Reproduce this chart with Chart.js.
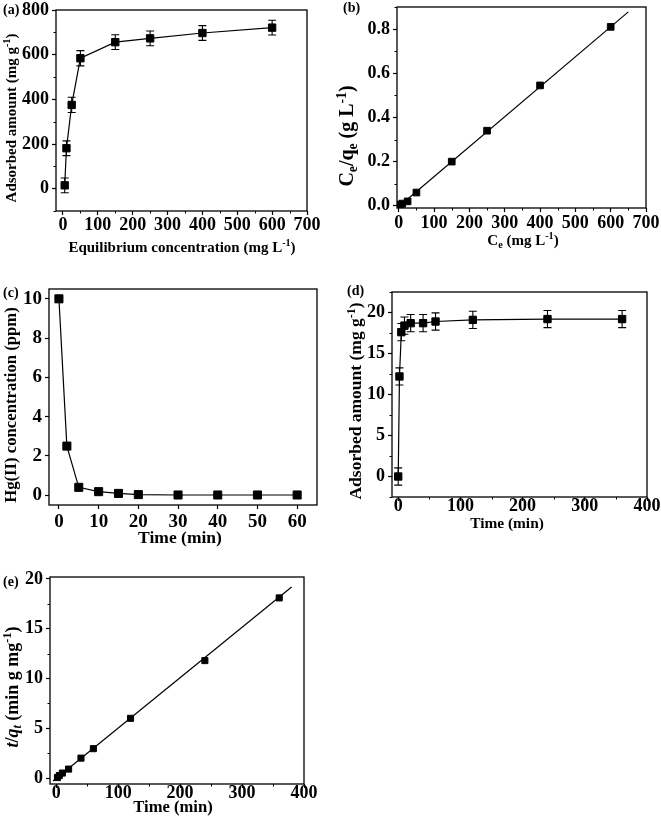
<!DOCTYPE html>
<html><head><meta charset="utf-8">
<script src="https://cdn.jsdelivr.net/npm/chart.js@4.4.0/dist/chart.umd.min.js"></script>
<style>
body{margin:0;background:#fff;width:661px;height:827px;position:relative;overflow:hidden;}
.p{position:absolute;}
.p canvas{display:block;}
.lbl{position:absolute;font:bold 14px 'Liberation Serif','Times New Roman',serif;color:#000;line-height:1;}
</style></head><body>
<div class="p" style="left:0;top:0;width:330px;height:265px"><canvas id="ca" width="330" height="265"></canvas></div>
<div class="p" style="left:330px;top:0;width:331px;height:265px"><canvas id="cb" width="331" height="265"></canvas></div>
<div class="p" style="left:0;top:270px;width:330px;height:280px"><canvas id="cc" width="330" height="280"></canvas></div>
<div class="p" style="left:330px;top:270px;width:331px;height:280px"><canvas id="cd" width="331" height="280"></canvas></div>
<div class="p" style="left:0;top:550px;width:330px;height:277px"><canvas id="ce" width="330" height="277"></canvas></div>
<div class="lbl" style="left:3px;top:3px">(a)</div>
<div class="lbl" style="left:343px;top:1px">(b)</div>
<div class="lbl" style="left:3px;top:286px">(c)</div>
<div class="lbl" style="left:347px;top:284px">(d)</div>
<div class="lbl" style="left:3px;top:575px">(e)</div>
<script>
// ---------- data ----------
// (a) adsorption isotherm
const isoCe  = [5, 10, 25, 50, 150, 250, 400, 600];
const isoQe  = [15, 181, 375, 584, 656, 673, 697, 721];
const isoErr = [33, 33, 34, 34, 33, 33, 33, 33];
// (b) Langmuir linear plot
const langCe = [5, 10, 25, 50, 150, 250, 400, 600];
const langCq = [0.005, 0.01, 0.02, 0.06, 0.20, 0.34, 0.545, 0.81];
const langFitX = [2, 650];
const langFitY = [-0.0006, 0.878];
// (c) Hg(II) concentration vs time
const timeC = [0, 2, 5, 10, 15, 20, 30, 40, 50, 60];
const concC = [10, 2.5, 0.4, 0.18, 0.09, 0.03, 0.01, 0.01, 0.01, 0.01];
// (d) adsorbed amount vs time
const timeD = [0, 2, 5, 10, 20, 40, 60, 120, 240, 360];
const qtD   = [0, 12.2, 17.6, 18.4, 18.7, 18.7, 18.9, 19.1, 19.2, 19.2];
const errD  = [1.05, 1.05, 1.05, 1.05, 1.05, 1.05, 1.05, 1.05, 1.05, 1.05];
// (e) pseudo-second-order plot
const timeE = [2, 5, 10, 20, 40, 60, 120, 240, 360];
const tqE   = [0.05, 0.25, 0.5, 0.9, 2.0, 2.95, 6.0, 11.8, 18.1];
const fitEX = [-5, 380];
const fitEY = [-0.3, 19.2];
// tick values
const ticksAX = [0, 100, 200, 300, 400, 500, 600, 700];
const ticksAY = [0, 200, 400, 600, 800];
const ticksBX = [0, 100, 200, 300, 400, 500, 600, 700];
const ticksBY = [0, 0.2, 0.4, 0.6, 0.8];
const ticksCX = [0, 10, 20, 30, 40, 50, 60];
const ticksCY = [0, 2, 4, 6, 8, 10];
const ticksDX = [0, 100, 200, 300, 400];
const ticksDY = [0, 5, 10, 15, 20];
const ticksEX = [0, 100, 200, 300, 400];
const ticksEY = [0, 5, 10, 15, 20];
// axis titles (rich text segments: sup = superscript, sub = subscript, it = italic)
const titleAX = [{t: 'Equilibrium concentration (mg L'}, {t: '-1', sup: 1}, {t: ')'}];
const titleAY = [{t: 'Adsorbed amount (mg g'}, {t: '-1', sup: 1}, {t: ')'}];
const titleBX = [{t: 'C'}, {t: 'e', sub: 1}, {t: ' (mg L'}, {t: '-1', sup: 1}, {t: ')'}];
const titleBY = [{t: 'C'}, {t: 'e', sub: 1}, {t: '/q'}, {t: 'e', sub: 1}, {t: ' (g L'}, {t: '-1', sup: 1}, {t: ')'}];
const titleCX = [{t: 'Time (min)'}];
const titleCY = [{t: 'Hg(II) concentration (ppm)'}];
const titleDX = [{t: 'Time (min)'}];
const titleDY = [{t: 'Adsorbed amount (mg g'}, {t: '-1', sup: 1}, {t: ')'}];
const titleEX = [{t: 'Time (min)'}];
const titleEY = [{t: 't', it: 1}, {t: '/'}, {t: 'q', it: 1}, {t: 't', sub: 1, it: 1}, {t: ' (min g mg'}, {t: '-1', sup: 1}, {t: ')'}];

const pts = (xs, ys) => xs.map((x, i) => ({x, y: ys[i]}));
const FAM = "'Liberation Serif','Times New Roman','DejaVu Serif',serif";

const framePlugin = {
  id: 'frame',
  beforeDatasetsDraw(chart) {
    const ctx = chart.ctx, xs = chart.scales.x, ys = chart.scales.y;
    ctx.save();
    ctx.strokeStyle = '#000'; ctx.lineWidth = 1.1;
    chart.data.datasets.forEach(ds => {
      if (!ds.errors) return;
      ds.data.forEach((p, j) => {
        const px = xs.getPixelForValue(p.x);
        const y1 = ys.getPixelForValue(p.y - ds.errors[j]);
        const y2 = ys.getPixelForValue(p.y + ds.errors[j]);
        ctx.beginPath();
        ctx.moveTo(px, y1); ctx.lineTo(px, y2);
        ctx.moveTo(px - 4, y1); ctx.lineTo(px + 4, y1);
        ctx.moveTo(px - 4, y2); ctx.lineTo(px + 4, y2);
        ctx.stroke();
      });
    });
    ctx.restore();
  },
  afterDraw(chart, args, opts) {
    const ctx = chart.ctx, a = chart.chartArea, xs = chart.scales.x, ys = chart.scales.y;
    ctx.save();
    ctx.strokeStyle = '#000'; ctx.lineWidth = 1;
    if (opts.minorX) {
      const majors = xs.ticks.map(t => t.value);
      for (let v = Math.ceil(xs.min / opts.minorX) * opts.minorX; v <= xs.max + 1e-9; v += opts.minorX) {
        if (majors.some(m => Math.abs(m - v) < 1e-9)) continue;
        const px = Math.round(xs.getPixelForValue(v)) + 0.5;
        ctx.beginPath(); ctx.moveTo(px, a.bottom); ctx.lineTo(px, a.bottom + 2.5); ctx.stroke();
      }
    }
    if (opts.minorY) {
      const majors = ys.ticks.map(t => t.value);
      for (let v = Math.ceil(ys.min / opts.minorY) * opts.minorY; v <= ys.max + 1e-9; v += opts.minorY) {
        if (majors.some(m => Math.abs(m - v) < 1e-9)) continue;
        const py = Math.round(ys.getPixelForValue(v)) + 0.5;
        ctx.beginPath(); ctx.moveTo(a.left - 2.5, py); ctx.lineTo(a.left, py); ctx.stroke();
      }
    }
    ctx.lineWidth = 1.3;
    ctx.strokeRect(a.left, a.top, a.right - a.left, a.bottom - a.top);
    ctx.restore();
  }
};

// axis titles with sub/superscripts, drawn as canvas text
const richTitlePlugin = {
  id: 'richTitles',
  afterDraw(chart, args, opts) {
    const ctx = chart.ctx;
    [opts.x, opts.y].forEach((spec, k) => {
      if (!spec) return;
      const size = spec.size;
      const fontFor = s => (s.it ? 'italic ' : '') + 'bold ' + ((s.sup || s.sub) ? size * 0.68 : size) + 'px ' + FAM;
      let total = 0;
      const widths = spec.segs.map(s => { ctx.font = fontFor(s); const w = ctx.measureText(s.t).width; total += w; return w; });
      ctx.save();
      ctx.translate(spec.cx, spec.cy);
      if (k === 1) ctx.rotate(-Math.PI / 2);
      ctx.fillStyle = '#000'; ctx.textBaseline = 'alphabetic'; ctx.textAlign = 'left';
      let x = -total / 2;
      const base = 0.25 * size;
      spec.segs.forEach((s, i) => {
        ctx.font = fontFor(s);
        const dy = s.sup ? -0.36 * size : (s.sub ? 0.2 * size : 0);
        ctx.fillText(s.t, x, base + dy);
        x += widths[i];
      });
      ctx.restore();
    });
  }
};
Chart.register(framePlugin, richTitlePlugin);

function makeChart(id, cfg) {
  const tickFont = {family: FAM, size: cfg.tickSize || 18, weight: 'bold', lineHeight: 1};
  const gridOpt = {display: true, drawOnChartArea: false, drawTicks: true, tickLength: 4, tickColor: '#000', tickWidth: 1.2};
  return new Chart(document.getElementById(id), {
    type: 'scatter',
    data: {datasets: cfg.datasets},
    options: {
      responsive: false, animation: false, devicePixelRatio: 1,
      layout: {padding: {top: cfg.padTop, right: cfg.padRight, left: 0, bottom: 0}},
      plugins: {
        legend: {display: false}, tooltip: {enabled: false},
        frame: {minorX: cfg.minorX, minorY: cfg.minorY},
        richTitles: {x: cfg.xTitle, y: cfg.yTitle}
      },
      scales: {
        x: {
          type: 'linear', min: cfg.xMin, max: cfg.xMax,
          afterBuildTicks: s => { s.ticks = cfg.xTicks.map(v => ({value: v})); },
          afterFit: s => { s.height = cfg.xH; s.paddingLeft = 0; s.paddingRight = 0; },
          grid: gridOpt, border: {display: false},
          ticks: {color: '#000', font: tickFont, padding: cfg.xTickPad, autoSkip: false, maxRotation: 0,
                  callback: cfg.xFmt || (v => String(v))},
          title: {display: false}
        },
        y: {
          type: 'linear', min: cfg.yMin, max: cfg.yMax,
          afterBuildTicks: s => { s.ticks = cfg.yTicks.map(v => ({value: v})); },
          afterFit: s => { s.width = cfg.yW; s.paddingTop = 0; s.paddingBottom = 0; },
          grid: gridOpt, border: {display: false},
          ticks: {color: '#000', font: tickFont, padding: 3, autoSkip: false,
                  callback: cfg.yFmt || (v => String(v))},
          title: {display: false}
        }
      }
    }
  });
}

const markerDs = (data, r, extra) => Object.assign({
  data, showLine: true, borderColor: '#000', borderWidth: 1.2, backgroundColor: '#000',
  pointStyle: 'rect', pointRadius: r, pointBorderWidth: 1, pointBackgroundColor: '#000', pointBorderColor: '#000'
}, extra || {});
const lineDs = (data) => ({data, showLine: true, borderColor: '#000', borderWidth: 1.2, pointRadius: 0, fill: false});

makeChart('ca', {
  datasets: [markerDs(pts(isoCe, isoQe), 5.2, {errors: isoErr})],
  xMin: -20, xMax: 700, yMin: -100, yMax: 800,
  xTicks: ticksAX, yTicks: ticksAY, minorX: 50, minorY: 100,
  yW: 56, xH: 54, padTop: 10, padRight: 23, xTickPad: 1,
  xTitle: {segs: titleAX, size: 15, cx: 182, cy: 248},
  yTitle: {segs: titleAY, size: 15, cx: 12, cy: 118}
});
makeChart('cb', {
  datasets: [lineDs(pts(langFitX, langFitY)), markerDs(pts(langCe, langCq), 4.7, {showLine: false})],
  xMin: -5, xMax: 700, yMin: -0.01, yMax: 0.9,
  xTicks: ticksBX, yTicks: ticksBY, minorX: 50, minorY: 0.1,
  yFmt: v => v.toFixed(1),
  yW: 67, xH: 57, padTop: 7, padRight: 15, xTickPad: 2,
  xTitle: {segs: titleBX, size: 15, cx: 193, cy: 241},
  yTitle: {segs: titleBY, size: 20, cx: 18, cy: 136}
});
makeChart('cc', {
  datasets: [markerDs(pts(timeC, concC), 5.7)],
  xMin: -2.5, xMax: 65, yMin: -0.5, yMax: 10.5,
  xTicks: ticksCX, yTicks: ticksCY, minorX: 0, minorY: 0, tickSize: 19,
  yW: 49, xH: 45, padTop: 19, padRight: 13, xTickPad: 4,
  xTitle: {segs: titleCX, size: 17.5, cx: 180, cy: 269},
  yTitle: {segs: titleCY, size: 16.7, cx: 12, cy: 135}
});
makeChart('cd', {
  datasets: [markerDs(pts(timeD, qtD), 5.2, {errors: errD})],
  xMin: -10, xMax: 400, yMin: -2.5, yMax: 22.5,
  xTicks: ticksDX, yTicks: ticksDY, minorX: 50, minorY: 2.5,
  yW: 62, xH: 53, padTop: 22, padRight: 14, xTickPad: -4,
  xTitle: {segs: titleDX, size: 15.4, cx: 177, cy: 254},
  yTitle: {segs: titleDY, size: 17.5, cx: 27, cy: 131}
});
makeChart('ce', {
  datasets: [lineDs(pts(fitEX, fitEY)), markerDs(pts(timeE, tqE), 4.3, {showLine: false})],
  xMin: -10, xMax: 400, yMin: -0.6, yMax: 20.2,
  xTicks: ticksEX, yTicks: ticksEY, minorX: 50, minorY: 2.5,
  yW: 50, xH: 43, padTop: 27, padRight: 26, xTickPad: -4,
  xTitle: {segs: titleEX, size: 16.6, cx: 173, cy: 258},
  yTitle: {segs: titleEY, size: 18, cx: 13, cy: 137}
});
</script>
</body></html>
